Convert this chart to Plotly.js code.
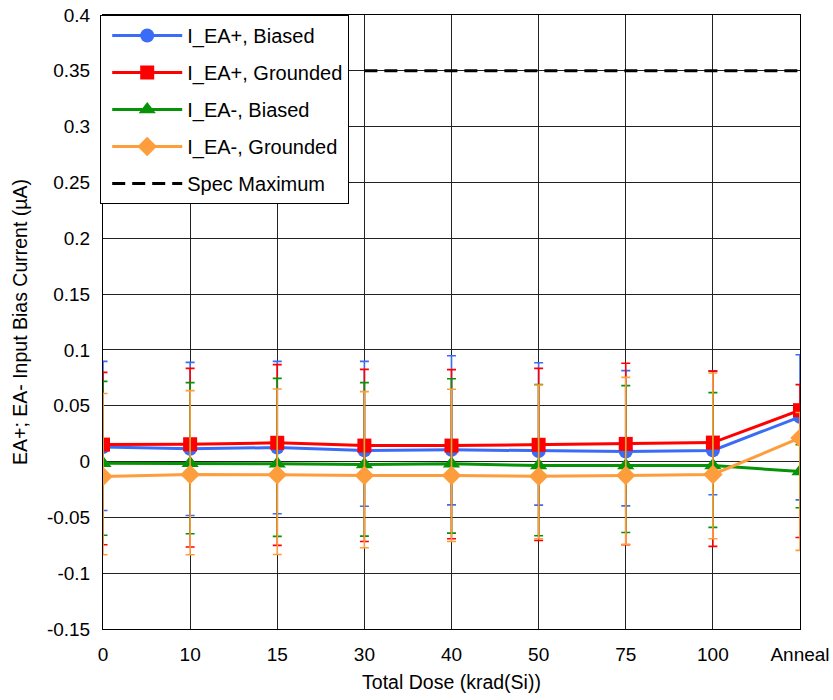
<!DOCTYPE html>
<html><head><meta charset="utf-8">
<script src="https://cdn.plot.ly/plotly-3.0.1.min.js"></script>
<style>html,body{margin:0;padding:0;background:#fff}#chart{width:833px;height:700px}</style>
</head><body><div id="chart"></div>
<script>
const categories = ['0','10','15','30','40','50','75','100','Anneal'];

const eaPlusBiased      = [0.013, 0.0115, 0.0125, 0.010, 0.0105, 0.0095, 0.009, 0.010, 0.040];
const eaPlusBiasedHi    = [0.0897, 0.0888, 0.0897, 0.0897, 0.0948, 0.0885, 0.0814, 0.0811, 0.0957];
const eaPlusBiasedLo    = [-0.0438, -0.0483, -0.0468, -0.040, -0.0388, -0.039, -0.0397, -0.0298, -0.0343];

const eaPlusGrounded    = [0.0152, 0.0155, 0.0168, 0.0143, 0.0143, 0.0150, 0.0158, 0.0170, 0.0460];
const eaPlusGroundedHi  = [0.0799, 0.0835, 0.0868, 0.0826, 0.0823, 0.0835, 0.088, 0.081, 0.0689];
const eaPlusGroundedLo  = [-0.0745, -0.0766, -0.0751, -0.0716, -0.0692, -0.0707, -0.0745, -0.076, -0.068];

const eaMinusBiased     = [-0.0015, -0.0015, -0.002, -0.0027, -0.002, -0.0036, -0.0036, -0.0036, -0.0090];
const eaMinusBiasedHi   = [0.0718, 0.0707, 0.0745, 0.0707, 0.0742, 0.069, 0.068, 0.0617, 0.015];
const eaMinusBiasedLo   = [-0.066, -0.0647, -0.067, -0.0668, -0.0641, -0.0665, -0.0635, -0.059, -0.0414];

const eaMinusGrounded   = [-0.0134, -0.0116, -0.0118, -0.0125, -0.0125, -0.0131, -0.0125, -0.0116, 0.0212];
const eaMinusGroundedHi = [0.061, 0.0635, 0.065, 0.0626, 0.0647, 0.0686, 0.0754, 0.0793, 0.044];
const eaMinusGroundedLo = [-0.0835, -0.0835, -0.0832, -0.0772, -0.0716, -0.0692, -0.0742, -0.0692, -0.0796];

const specCategories = ['30','40','50','75','100','Anneal'];
const specMaximum    = [0.35, 0.35, 0.35, 0.35, 0.35, 0.35];

const yTickVals = [-0.15,-0.1,-0.05,0,0.05,0.1,0.15,0.2,0.25,0.3,0.35,0.4];
const yTickText = ['-0.15','-0.1','-0.05','0','0.05','0.1','0.15','0.2','0.25','0.3','0.35','0.4'];

function errs(mean, hi, lo){
  return {
    type:'data', symmetric:false,
    array: mean.map((m,i)=>hi[i]-m),
    arrayminus: mean.map((m,i)=>m-lo[i])
  };
}
function series(name, y, hi, lo, color, symbol, size, grp){
  const e = errs(y, hi, lo);
  e.color = color; e.thickness = 1.6; e.width = 4.5;
  return {
    type:'scatter', mode:'lines+markers', name:name, x:categories, y:y,
    line:{color:color, width:3},
    marker:{color:color, symbol:symbol, size:size},
    error_y:e, legendgroup:grp
  };
}
const traces = [
  series('I_EA+, Biased', eaPlusBiased, eaPlusBiasedHi, eaPlusBiasedLo, '#3b6cf6', 'circle', 14, 'a'),
  series('I_EA+, Grounded', eaPlusGrounded, eaPlusGroundedHi, eaPlusGroundedLo, '#ff0000', 'square', 14, 'b'),
  series('I_EA-, Biased', eaMinusBiased, eaMinusBiasedHi, eaMinusBiasedLo, '#079307', 'triangle-up', 15, 'c'),
  series('I_EA-, Grounded', eaMinusGrounded, eaMinusGroundedHi, eaMinusGroundedLo, '#fe9d3c', 'diamond', 15, 'd'),
  {type:'scatter', mode:'lines', name:'Spec Maximum', x:specCategories, y:specMaximum,
   line:{color:'#000', width:3, dash:'13px,7px'}, legendgroup:'e'}
];

const fam = 'Liberation Sans, Arial, sans-serif';
const tickFont = {family:fam, size:19, color:'#000'};
const titleFont = {family:fam, size:19.5, color:'#000'};
const layout = {
  width:833, height:700,
  margin:{l:103, r:33, t:15, b:71},
  paper_bgcolor:'#fff', plot_bgcolor:'#fff',
  font:tickFont,
  showlegend:true,
  legend:{x:-0.004, y:1, xanchor:'left', yanchor:'top', bgcolor:'#fff',
          bordercolor:'#000', borderwidth:1, font:{family:fam, size:20, color:'#000'},
          tracegroupgap:8, itemwidth:70, indentation:6,
          entrywidth:250, entrywidthmode:'pixels'},
  xaxis:{type:'category', range:[0,8], tickmode:'array', tickvals:categories, ticktext:categories,
         showgrid:true, gridcolor:'#222', gridwidth:1,
         showline:true, linecolor:'#000', linewidth:1, mirror:true, zeroline:false,
         ticks:'', ticklabelstandoff:8, tickfont:tickFont,
         title:{text:'Total Dose (krad(Si))', font:titleFont, standoff:11}},
  yaxis:{range:[-0.15,0.4], tickmode:'array', tickvals:yTickVals, ticktext:yTickText,
         showgrid:true, gridcolor:'#222', gridwidth:1,
         showline:true, linecolor:'#000', linewidth:1, mirror:true, zeroline:false,
         ticks:'', ticklabelstandoff:8, tickfont:tickFont,
         title:{text:'EA+; EA- Input Bias Current (µA)', font:titleFont, standoff:14}}
};
Plotly.newPlot('chart', traces, layout, {displayModeBar:false, staticPlot:true});
</script>
</body></html>
